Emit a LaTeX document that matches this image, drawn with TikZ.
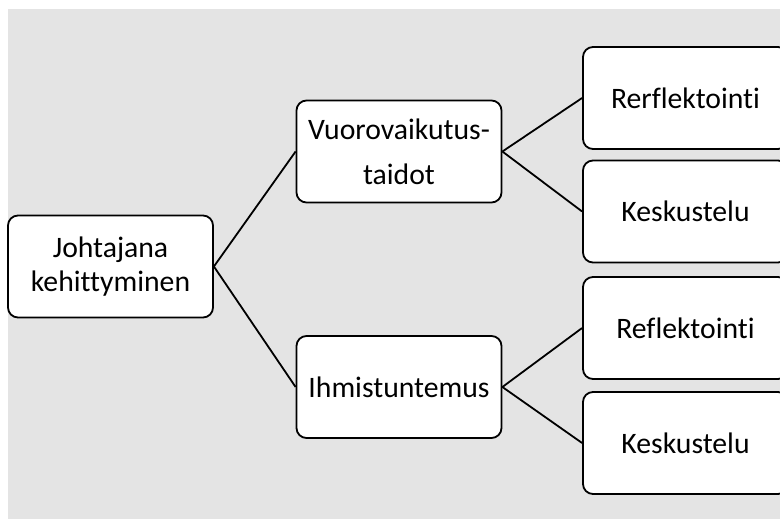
\documentclass[tikz,border=0pt]{standalone}
\usepackage{fontspec}
\setmainfont{Carlito}[Ligatures={NoCommon,NoContextual,NoRare}]
\begin{document}
\begin{tikzpicture}[x=1pt,y=-1pt,
  box/.style={draw=black, line width=1.8pt, fill=white, rounded corners=10pt,
    minimum width=205pt, minimum height=102pt, inner sep=0pt, align=center,
    font=\fontsize{29.7}{34}\selectfont},
  link/.style={draw=black, line width=1.8pt}]
  \useasboundingbox (0,0) rectangle (780,519);
  \clip (0,0) rectangle (780,519);
  % backdrop panel
  \fill[fill={rgb,255:red,228;green,228;blue,228}] (8,9) rectangle (790,530);

  % tree nodes
  \node[box] (root) at (110.5,266.5) {Johtajana\\kehittyminen};
  \node[box, font=\fontsize{29.7}{45}\selectfont] (vuoro) at (399,151.5) {Vuorovaikutus-\\taidot};
  \node[box] (ihm) at (399,387) {Ihmistuntemus};
  \node[box] (r1) at (685.5,98) {Rerflektointi};
  \node[box] (r2) at (685.5,211.5) {Keskustelu};
  \node[box] (r3) at (685.5,328) {Reflektointi};
  \node[box] (r4) at (685.5,443) {Keskustelu};

  % branches
  \draw[link] (root.east) -- (vuoro.west);
  \draw[link] (root.east) -- (ihm.west);
  \draw[link] (vuoro.east) -- (r1.west);
  \draw[link] (vuoro.east) -- (r2.west);
  \draw[link] (ihm.east) -- (r3.west);
  \draw[link] (ihm.east) -- (r4.west);
\end{tikzpicture}
\end{document}
